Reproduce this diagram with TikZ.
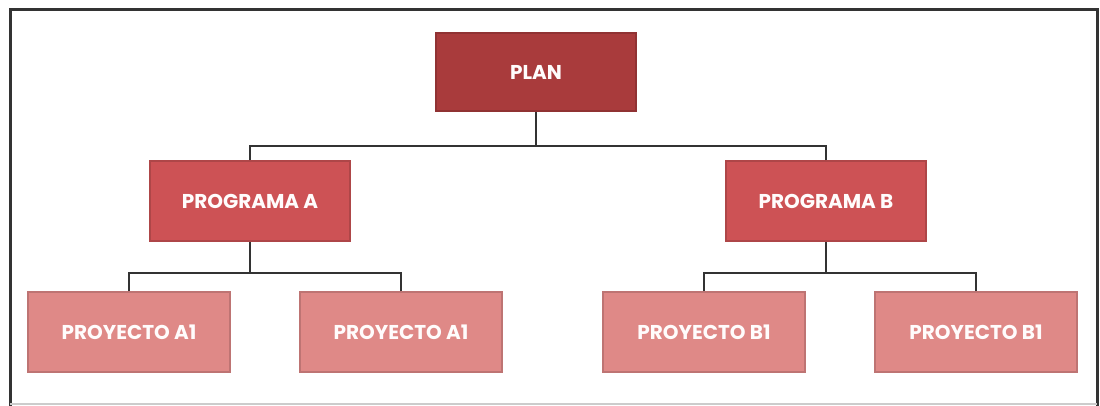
\documentclass[tikz,border=0pt]{standalone}
\usepackage{fontspec}
\setmainfont{Poppins}
\definecolor{plancol}{HTML}{A93B3C}
\definecolor{progcol}{HTML}{CD5255}
\definecolor{proycol}{HTML}{DF8987}
\definecolor{linecol}{HTML}{333333}
\begin{document}
\begin{tikzpicture}[x=0.5pt,y=-0.5pt,
    box/.style={rectangle, inner sep=0pt, text=white!95!pink, font=\bfseries\fontsize{10}{12}\selectfont,
                minimum width=101pt, minimum height=40pt, draw=#1!85!black, line width=0.6pt, fill=#1},
    link/.style={draw=linecol, line width=1.4pt}]
            \useasboundingbox (0,0) rectangle (1100,406);
            \fill[white] (0,0) rectangle (1100,406);

            \draw[linecol, line width=1.5pt] (10,410) -- (10,10) -- (1097,10) -- (1097,410);
            \draw[gray!40, line width=0.6pt] (10,404) -- (1097,404);

            \node[box=plancol, minimum width=100pt, minimum height=39pt] (plan) at (536,72) {PLAN};

            \node[box=progcol, minimum width=100pt] (proga) at (250,201) {PROGRAMA A};
            \node[box=progcol, minimum width=100pt] (progb) at (826,201) {PROGRAMA B};

            \node[box=proycol] (proya1) at (129,332) {PROYECTO A1};
            \node[box=proycol] (proya2) at (401,332) {PROYECTO A1};
            \node[box=proycol] (proyb1) at (704,332) {PROYECTO B1};
            \node[box=proycol] (proyb2) at (976,332) {PROYECTO B1};

            \coordinate (busone) at (0,146);
            \coordinate (bustwo) at (0,273);

            \draw[link] (proga.north) |- (busone -| plan.south) -- (plan.south);
            \draw[link] (progb.north) |- (busone -| plan.south);

            \draw[link] (proya1.north) |- (bustwo -| proga.south) -- (proga.south);
            \draw[link] (proya2.north) |- (bustwo -| proga.south);
            \draw[link] (proyb1.north) |- (bustwo -| progb.south) -- (progb.south);
            \draw[link] (proyb2.north) |- (bustwo -| progb.south);
        \end{tikzpicture}
\end{document}
